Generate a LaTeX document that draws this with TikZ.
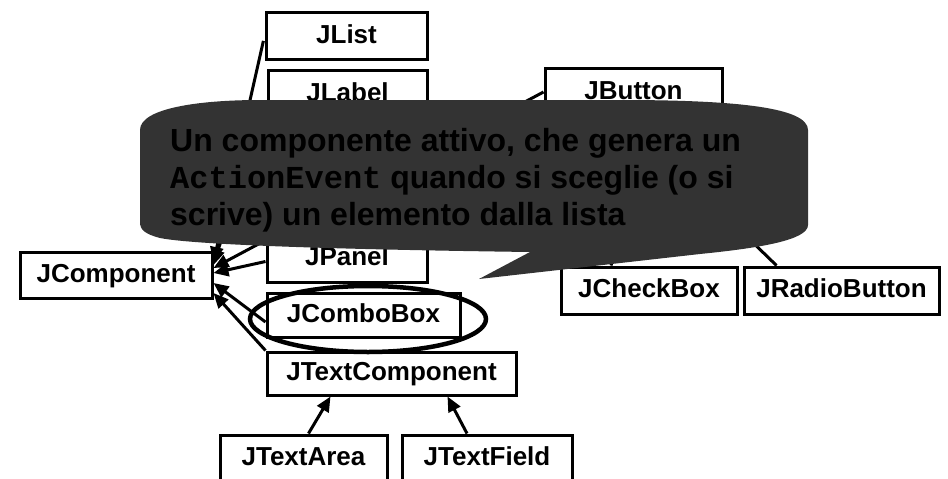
\documentclass[tikz,border=0pt]{standalone}
\usepackage{fontspec}
\setmainfont{Liberation Sans}
\setmonofont{Liberation Mono}
\usetikzlibrary{arrows.meta,shapes.geometric}
\definecolor{calloutgray}{HTML}{333333}
\tikzset{
  cls/.style={draw=black, line width=3pt, fill=white, inner sep=0pt,
    minimum height=47pt, text height=19pt, text depth=5pt,
    font=\fontsize{26}{30}\selectfont\bfseries},
  inh/.style={line width=3pt, -{Triangle[length=15pt,width=13pt]}},
  hilite/.style={draw=black, ellipse, line width=4.5pt, inner sep=0pt},
  calltext/.style={anchor=base west, inner sep=0pt,
    font=\fontsize{32}{37}\selectfont\bfseries, text=black},
}
\begin{document}
\begin{tikzpicture}[x=1pt,y=-1pt]
\clip (0,0) rectangle (948,479);
% classes
\node[cls, minimum width=161pt] (jlist) at (346.5,36) {JList};
\node[cls, minimum width=159pt] (jlabel) at (347.5,94) {JLabel};
\node[cls, minimum width=160pt] (jpanel) at (347,258.5) {JPanel};
\node[cls, minimum width=193pt, minimum height=44pt] (jcombo) at (363.5,315) {JComboBox};
\node[cls, minimum width=249pt, minimum height=43pt] (jtextcomp) at (391.5,373.5) {JTextComponent};
\node[cls, minimum width=167pt] (jtextarea) at (303.5,458.5) {JTextArea};
\node[cls, minimum width=170pt] (jtextfield) at (487,458.5) {JTextField};
\node[cls, minimum width=192pt, minimum height=46pt] (jcomp) at (116,275) {JComponent};
\node[cls, minimum width=177pt] (jbutton) at (633.5,92) {JButton};
\node[cls, minimum width=176pt] (jcheck) at (649,290.5) {JCheckBox};
\node[cls, minimum width=195pt] (jradio) at (841.5,290.5) {JRadioButton};
% inheritance connectors
\draw[inh, shorten <=5pt] (jlist.west) -- ([yshift=13pt]jcomp.east);
\draw[inh, shorten <=7pt] (jlabel.west) -- ([yshift=10pt]jcomp.east);
\draw[inh] (jbutton.west) -- ([yshift=7pt]jcomp.east);
\draw[inh] ([yshift=-3pt]jpanel.west) -- ([yshift=2pt]jcomp.east);
\draw[inh] ([yshift=-7pt]jcombo.west) -- ([yshift=-8pt]jcomp.east);
\draw[inh] (jtextcomp.north west) -- ([yshift=-18pt]jcomp.east);
\draw[inh] ([xshift=5pt]jtextarea.north) -- ([xshift=-61pt]jtextcomp.south);
\draw[inh] ([xshift=-20pt]jtextfield.north) -- ([xshift=56pt]jtextcomp.south);
\draw[inh] ([xshift=-38pt]jcheck.north) -- ([xshift=20pt]jbutton.south);
\draw[inh] ([xshift=-65pt]jradio.north) -- ([xshift=-10pt]jbutton.south);
% highlight ellipse
\node[hilite, minimum width=236pt, minimum height=66pt] (hl) at (368,319) {};
% callout
\fill[calloutgray] (140,130) .. controls (140,108) and (200,100) .. (260,100)
  -- (620,100) .. controls (740,100) and (808,108) .. (808,130)
  -- (808,225) .. controls (808,240) and (760,248) .. (700,254)
  -- (479,279) -- (530,252)
  .. controls (380,250) and (200,246) .. (160,238)
  .. controls (145,234) and (140,230) .. (140,222) -- cycle;
\node[calltext] (cl1) at (170,151) {Un componente attivo, che genera un};
\node[calltext] (cl2) at (170,188) {{\ttfamily\bfseries ActionEvent} quando si sceglie (o si};
\node[calltext] (cl3) at (170,225) {scrive) un elemento dalla lista};
\end{tikzpicture}
\end{document}
